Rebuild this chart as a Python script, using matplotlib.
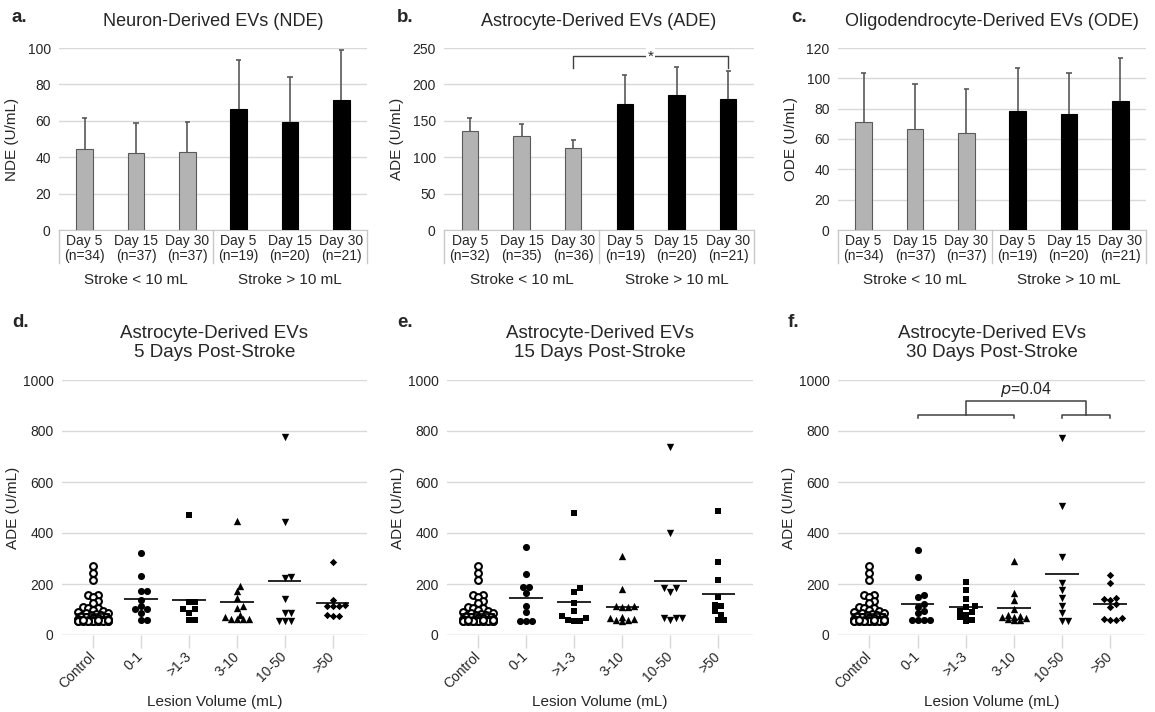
import numpy as np
import matplotlib
matplotlib.use('Agg')
import matplotlib.pyplot as plt

plt.rcParams['font.family'] = ['Liberation Sans', 'DejaVu Sans']

W, H = 1155, 712
TXT = '#262626'
GRID = '#d9d9d9'
ERR = '#595959'

# ---- top row: group means with upper SD ----
day_labels = ['Day 5', 'Day 15', 'Day 30', 'Day 5', 'Day 15', 'Day 30']
group_labels = ['Stroke < 10 mL', 'Stroke > 10 mL']

n_nde = [34, 37, 37, 19, 20, 21]
nde_mean = [44.5, 42.5, 43.0, 66.5, 59.3, 71.7]
nde_sd = [17.3, 16.4, 16.6, 26.7, 24.8, 27.4]

n_ade = [32, 35, 36, 19, 20, 21]
ade_mean = [136.5, 129.5, 113.0, 172.5, 185.0, 180.0]
ade_sd = [18.0, 15.8, 11.3, 40.5, 39.4, 38.0]

n_ode = [34, 37, 37, 19, 20, 21]
ode_mean = [71.5, 66.3, 63.8, 78.5, 76.6, 85.3]
ode_sd = [31.8, 29.8, 29.4, 28.6, 27.2, 28.1]

# ---- bottom row: individual ADE values by lesion volume ----
lesion_cats = ['Control', '0-1', '>1-3', '3-10', '10-50', '>50']

control_ade = [272, 245, 216, 158, 155, 150, 132, 125, 110, 105, 105, 100,
               95, 92, 88, 85, 82, 80, 78, 75, 72, 70, 68, 66, 64, 62, 60,
               60, 58, 58, 57, 57, 56, 56, 56, 55, 55, 55, 55, 55, 55, 55,
               55, 55, 55, 55, 55, 55, 56, 57, 58, 60]

day5_ade = [
    control_ade,
    [320, 231, 174, 174, 137, 114, 101, 101, 87, 59, 59],
    [471, 131, 131, 102, 102, 87, 59, 59],
    [448, 193, 172, 144, 114, 105, 78, 70, 62, 62, 62, 62],
    [778, 444, 229, 222, 140, 88, 85, 56, 56, 56],
    [285, 137, 118, 115, 115, 113, 80, 75, 73],
]
day5_means = [81, 140, 137, 131, 212, 127]

day15_ade = [
    control_ade,
    [346, 239, 187, 187, 166, 115, 92, 56, 56, 56],
    [480, 183, 168, 125, 95, 75, 65, 58, 56, 56],
    [311, 179, 115, 112, 110, 110, 70, 65, 62, 60, 58, 56],
    [739, 399, 185, 183, 168, 68, 66, 65, 58],
    [488, 285, 216, 150, 118, 113, 95, 80, 59, 59],
]
day15_means = [81, 146, 131, 108, 213, 161]

day30_ade = [
    control_ade,
    [333, 229, 157, 150, 120, 110, 95, 85, 59, 59, 59, 59],
    [209, 176, 141, 112, 110, 95, 90, 80, 72, 60, 56],
    [292, 166, 137, 101, 80, 75, 72, 70, 65, 62, 60, 58],
    [771, 507, 307, 205, 176, 146, 114, 85, 56, 56],
    [235, 203, 144, 142, 137, 120, 110, 66, 62, 60, 58],
]
day30_means = [81, 122, 108, 105, 239, 122]


def px_axes(fig, x0, y0, x1, y1):
    return fig.add_axes([x0 / W, 1 - y1 / H, (x1 - x0) / W, (y1 - y0) / H])


def swarm(vals, px_x, px_y, d=6.0, maxw=14):
    # simple beeswarm in pixel space, capped width (points overlap past cap)
    vals = np.asarray(vals, float)
    placed = []
    offs = np.zeros(len(vals))
    cands = [0.0] + [s * k * d * 0.5 for k in range(1, 20) for s in (1, -1)]
    cands = [c for c in cands if abs(c) <= maxw]
    for i in np.argsort(vals, kind='stable'):
        y = vals[i] * px_y
        best = None
        for c in cands:
            if all((c - px) ** 2 + (y - py) ** 2 >= (d * 0.95) ** 2 for px, py in placed):
                best = c
                break
        if best is None:
            best = min(cands, key=lambda c: sum(max(0, d - np.hypot(c - px, y - py))
                                                for px, py in placed))
        placed.append((best, y))
        offs[i] = best / px_x
    return offs


def bar_panel(fig, box, letter, title, ylabel, means, sds, ns, ymax, ystep):
    ax = px_axes(fig, *box)
    ah = box[3] - box[1]
    x = np.arange(6)
    means = np.array(means)
    tops = means + np.array(sds)
    ax.bar(x[:3], means[:3], width=0.32, color='#b3b3b3', edgecolor='#5a5a5a',
           linewidth=0.8, zorder=3)
    ax.bar(x[3:], means[3:], width=0.32, color='black', edgecolor='black',
           linewidth=0.8, zorder=3)
    ax.vlines(x, means, tops, color=ERR, lw=1.2, zorder=4)
    ax.hlines(tops, x - 0.05, x + 0.05, color=ERR, lw=1.2, zorder=4)

    ax.set_xlim(-0.5, 5.5)
    ax.set_ylim(0, ymax)
    ax.set_yticks(np.arange(0, ymax + 1, ystep))
    ax.yaxis.grid(True, color=GRID, lw=1)
    ax.set_axisbelow(True)
    for s in ['top', 'right', 'left']:
        ax.spines[s].set_visible(False)
    ax.spines['bottom'].set_color('#c8c8c8')
    ax.set_xticks([])
    ax.tick_params(axis='y', length=0, pad=6, labelsize=10, labelcolor=TXT)

    # two-level category axis
    for i in range(6):
        ax.annotate(f'{day_labels[i]}\n(n={ns[i]})', xy=(i, 0),
                    xycoords=('data', 'axes fraction'), xytext=(0, -3),
                    textcoords='offset points', ha='center', va='top',
                    fontsize=10, color=TXT, linespacing=1.12)
    for xv in [-0.5, 2.5, 5.5]:
        ax.plot([xv, xv], [0, -33 / ah], color='#c8c8c8', lw=1,
                transform=ax.get_xaxis_transform(), clip_on=False)
    for g in range(2):
        ax.text(1 + 3 * g, -50 / ah, group_labels[g], ha='center', va='center',
                fontsize=11, color=TXT, transform=ax.get_xaxis_transform())

    ax.text(0.5, 1 + 26 / ah, title, ha='center', va='center', fontsize=13,
            color=TXT, transform=ax.transAxes)
    ax.set_ylabel(ylabel, fontsize=11, color=TXT)
    ax.yaxis.set_label_coords(-40 / (box[2] - box[0]), 0.5)
    fig.text((box[0] - 47) / W, 1 - 17 / H, letter, fontsize=13.5,
             fontweight='bold', color=TXT, va='center', ha='left')
    return ax


markers = [
    dict(marker='o', s=24, facecolors='white', edgecolors='black', linewidths=1.5),
    dict(marker='o', s=26, color='black', linewidths=0),
    dict(marker='s', s=22, color='black', linewidths=0),
    dict(marker='^', s=28, color='black', linewidths=0),
    dict(marker='v', s=28, color='black', linewidths=0),
    dict(marker='D', s=14, color='black', linewidths=0),
]


def scatter_panel(fig, box, letter, title, groups, means, last_marker='D'):
    ax = px_axes(fig, *box)
    aw, ah = box[2] - box[0], box[3] - box[1]
    xlim = (-0.65, 5.72)
    ax.set_xlim(*xlim)
    ax.set_ylim(0, 1000)
    px_x = aw / (xlim[1] - xlim[0])
    px_y = ah / 1000

    for i, vals in enumerate(groups):
        m = dict(markers[i])
        if i == 5:
            m['marker'] = last_marker
            m['s'] = 22 if last_marker == 's' else 14
        maxw = 17 if i == 0 else 13
        offs = swarm(vals, px_x, px_y, d=5.0 if i == 0 else 6.0, maxw=maxw)
        ax.scatter(i + offs, vals, zorder=3, clip_on=False, **m)
        ax.hlines(means[i], i - 0.35, i + 0.35, color='black', lw=1.2, zorder=4)

    ax.set_yticks(np.arange(0, 1001, 200))
    ax.yaxis.grid(True, color=GRID, lw=1)
    ax.axhline(0, color=GRID, lw=1, zorder=0)
    ax.set_axisbelow(True)
    for s in ax.spines.values():
        s.set_visible(False)
    ax.set_xticks(range(6))
    ax.set_xticklabels(lesion_cats, rotation=45, ha='right', va='center',
                       rotation_mode='anchor')
    ax.tick_params(axis='x', length=9, width=1, color=GRID, pad=5,
                   labelsize=10, labelcolor=TXT)
    ax.tick_params(axis='y', length=0, pad=6, labelsize=10, labelcolor=TXT)

    ax.text(0.5, -67 / ah, 'Lesion Volume (mL)', ha='center', va='center',
            fontsize=11, color=TXT, transform=ax.transAxes)
    ax.set_ylabel('ADE (U/mL)', fontsize=11, color=TXT)
    ax.yaxis.set_label_coords(-42 / aw, 0.5)
    ax.text(0.5, 1 + 37 / ah, title, ha='center', va='center', fontsize=13.5,
            color=TXT, transform=ax.transAxes, linespacing=1.2)
    fig.text((box[0] - 50) / W, 1 - 322 / H, letter, fontsize=13.5,
             fontweight='bold', color=TXT, va='center', ha='left')
    return ax


fig = plt.figure(figsize=(W / 100, H / 100), dpi=100)
fig.patch.set_facecolor('white')

bar_panel(fig, (59, 48, 367, 230), 'a.', 'Neuron-Derived EVs (NDE)',
          'NDE (U/mL)', nde_mean, nde_sd, n_nde, 100, 20)
axb = bar_panel(fig, (444, 48, 754, 230), 'b.', 'Astrocyte-Derived EVs (ADE)',
                'ADE (U/mL)', ade_mean, ade_sd, n_ade, 250, 50)
bar_panel(fig, (838, 48, 1146, 230), 'c.', 'Oligodendrocyte-Derived EVs (ODE)',
          'ODE (U/mL)', ode_mean, ode_sd, n_ode, 120, 20)

# significance bracket, panel b
axb.plot([2, 2, 5, 5], [223, 238.5, 238.5, 223], color='#404040', lw=1,
         clip_on=False, zorder=5)
axb.text(3.5, 238.5, '*', ha='center', va='center', fontsize=11, color=TXT,
         zorder=6, bbox=dict(facecolor='white', edgecolor='none', pad=1))

scatter_panel(fig, (62, 380, 367, 635), 'd.',
              'Astrocyte-Derived EVs\n5 Days Post-Stroke', day5_ade, day5_means)
scatter_panel(fig, (447, 380, 753, 635), 'e.',
              'Astrocyte-Derived EVs\n15 Days Post-Stroke', day15_ade,
              day15_means, last_marker='s')
axf = scatter_panel(fig, (838, 380, 1145, 635), 'f.',
                    'Astrocyte-Derived EVs\n30 Days Post-Stroke', day30_ade,
                    day30_means)

# nested comparison bracket, panel f
bk = dict(color='#404040', lw=1.1, clip_on=False, zorder=5)
axf.plot([1, 1, 3, 3], [851, 862, 862, 851], **bk)
axf.plot([4, 4, 5, 5], [851, 862, 862, 851], **bk)
axf.plot([2, 2, 4.5, 4.5], [862, 918, 918, 862], **bk)
axf.text(3.25, 962, r'$\it{p}$=0.04', ha='center', va='center', fontsize=11.5,
         color=TXT)

fig.savefig('out.png', dpi=100)
